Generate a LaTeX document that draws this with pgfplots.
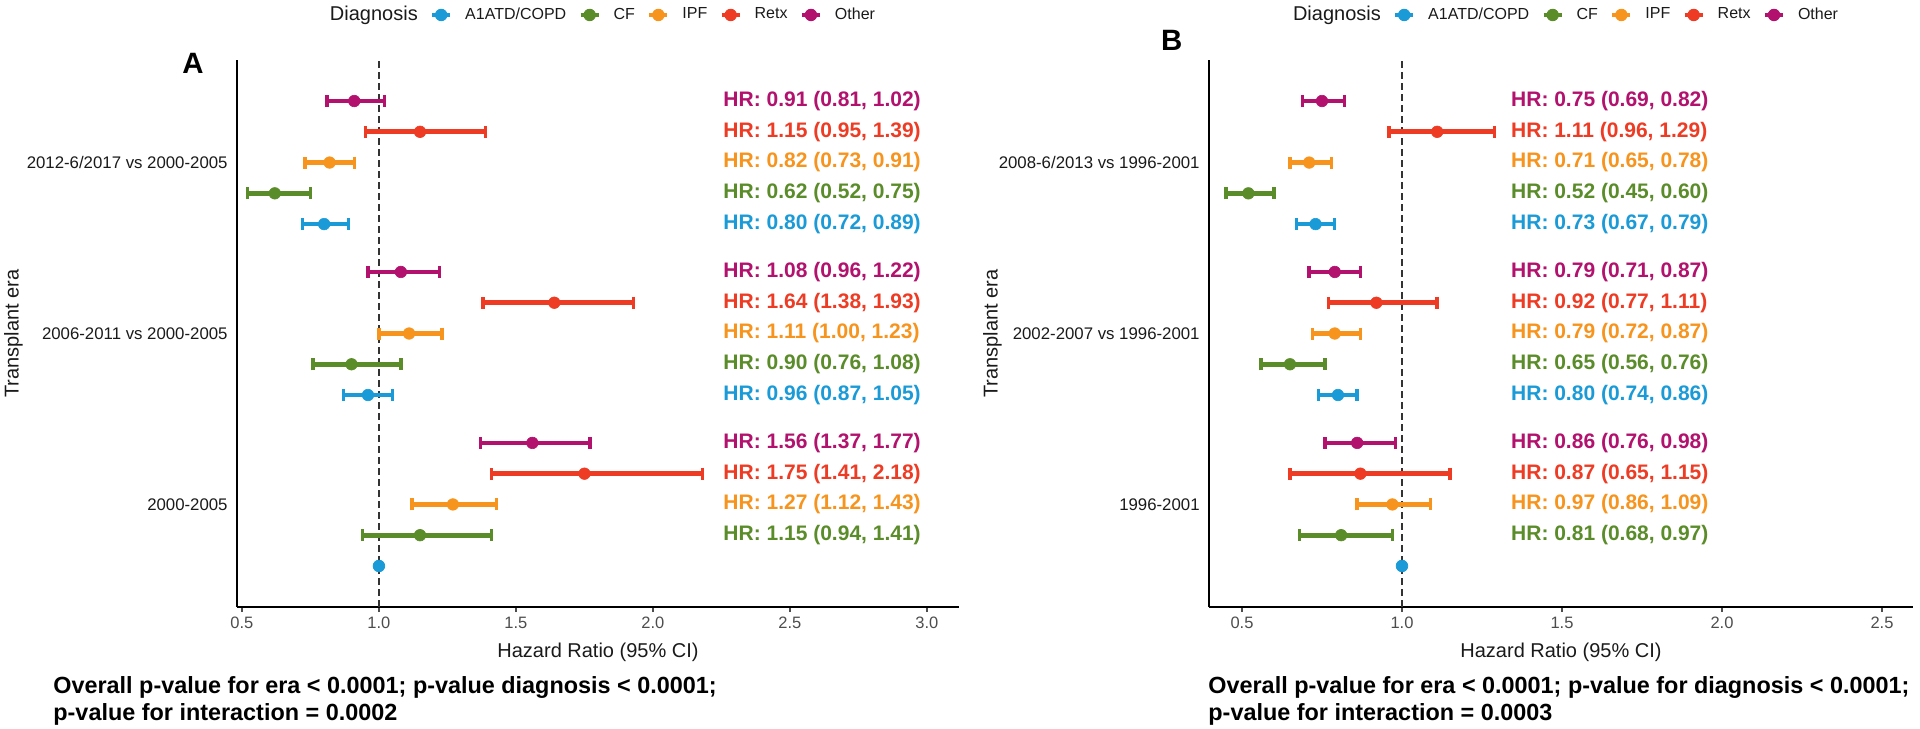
\documentclass[border=0pt]{standalone}
\usepackage{pgfplots}
\pgfplotsset{compat=1.18}
\usepackage{pgfplotstable}
\usepackage{fontspec}
\setmainfont{Liberation Sans}

\definecolor{cA1}{HTML}{1A9BD7}
\definecolor{cCF}{HTML}{5B8C2A}
\definecolor{cIPF}{HTML}{F7941D}
\definecolor{cRetx}{HTML}{EE3B24}
\definecolor{cOther}{HTML}{B2116D}
\definecolor{tickgray}{HTML}{4D4D4D}
\definecolor{txt}{HTML}{1A1A1A}

% g = era (1 = reference era, 2 = middle, 3 = latest)
% ---- panel A
\pgfplotstableread{
g hr lo hi
3 0.80 0.72 0.89
2 0.96 0.87 1.05
}\aAone
\pgfplotstableread{
g hr lo hi
3 0.62 0.52 0.75
2 0.90 0.76 1.08
1 1.15 0.94 1.41
}\aCF
\pgfplotstableread{
g hr lo hi
3 0.82 0.73 0.91
2 1.11 1.00 1.23
1 1.27 1.12 1.43
}\aIPF
\pgfplotstableread{
g hr lo hi
3 1.15 0.95 1.39
2 1.64 1.38 1.93
1 1.75 1.41 2.18
}\aRetx
\pgfplotstableread{
g hr lo hi
3 0.91 0.81 1.02
2 1.08 0.96 1.22
1 1.56 1.37 1.77
}\aOther
% ---- panel B
\pgfplotstableread{
g hr lo hi
3 0.73 0.67 0.79
2 0.80 0.74 0.86
}\bAone
\pgfplotstableread{
g hr lo hi
3 0.52 0.45 0.60
2 0.65 0.56 0.76
1 0.81 0.68 0.97
}\bCF
\pgfplotstableread{
g hr lo hi
3 0.71 0.65 0.78
2 0.79 0.72 0.87
1 0.97 0.86 1.09
}\bIPF
\pgfplotstableread{
g hr lo hi
3 1.11 0.96 1.29
2 0.92 0.77 1.11
1 0.87 0.65 1.15
}\bRetx
\pgfplotstableread{
g hr lo hi
3 0.75 0.69 0.82
2 0.79 0.71 0.87
1 0.86 0.76 0.98
}\bOther

\pgfplotsset{
  diag/.style={forget plot, only marks, mark=*, mark size=2.9pt, color=#1, line width=2.3pt,
    mark options={solid, fill=#1, draw=#1, line width=0.3pt},
    error bars/.cd, x dir=both, x explicit, error mark=|,
    error bar style={line width=2.3pt, #1},
    error mark options={line width=1.7pt, mark size=3pt, #1}},
  legimg/.style={legend image code/.code={
    \draw[line width=2pt,#1] (0pt,0pt) -- (9pt,0pt);
    \draw[line width=2pt,#1] (4.5pt,-3.2pt) -- (4.5pt,3.2pt);
    \fill[#1] (4.5pt,0pt) circle (2.9pt);}},
  panel/.style={
    scale only axis, height=273.5pt, ymin=0.4, ymax=3.6,
    clip=false,
    axis x line*=bottom, axis y line*=left,
    axis line style={-, line width=0.9pt, black},
    ytick={1,2,3},
    tick align=outside, major tick length=2.5pt,
    y tick style={draw=none},
    x tick style={tickgray, line width=0.6pt},
    /pgf/number format/assume math mode=true,
    xticklabel={\pgfmathprintnumber[fixed, fixed zerofill, precision=1]{\tick}},
    xticklabel style={font=\fontsize{8.25}{10}\selectfont, text=tickgray, inner sep=0pt, yshift=-2.5pt},
    yticklabel style={font=\fontsize{8.4}{10}\selectfont, text=txt, inner sep=0pt, xshift=-2pt},
    xlabel={Hazard Ratio (95\% CI)}, ylabel={Transplant era},
    label style={font=\fontsize{10}{12}\selectfont, text=txt},
    xlabel style={at={(axis description cs:0.5,0)}, anchor=base, yshift=-25.4pt},
    legend style={draw=none, fill=none, at={(axis description cs:0.5,1.0823)}, anchor=center,
      font=\fontsize{8}{9.6}\selectfont, text=txt,
      /tikz/every odd column/.append style={column sep=4.5pt},
      /tikz/every even column/.append style={column sep=4.2pt}},
    legend columns=-1, legend cell align=left,
  },
}
\tikzset{hrlab/.style={anchor=west, inner sep=0pt, text=#1, font=\bfseries\fontsize{10.5}{12}\selectfont}}

\newcommand{\legendrow}{%
  \addlegendimage{empty legend}\addlegendentry{\fontsize{10}{12}\selectfont Diagnosis}
  \addlegendimage{legimg=cA1}\addlegendentry{A1ATD/COPD}
  \addlegendimage{legimg=cCF}\addlegendentry{CF}
  \addlegendimage{legimg=cIPF}\addlegendentry{IPF}
  \addlegendimage{legimg=cRetx}\addlegendentry{Retx}
  \addlegendimage{legimg=cOther}\addlegendentry{Other}}

\begin{document}
\begin{tikzpicture}
\path[use as bounding box] (0,0) rectangle (960pt,364pt);

% ================= panel A
\begin{axis}[panel, at={(118.5pt,60.5pt)}, anchor=south west, width=361pt,
  xmin=0.482, xmax=3.117, xtick={0.5,1,1.5,2,2.5,3},
  yticklabels={2000-2005, 2006-2011 vs 2000-2005, 2012-6/2017 vs 2000-2005},
  ylabel style={at={(axis description cs:-0.3096,0.5)}, anchor=center}]
\legendrow
\addplot[forget plot, dashed, dash pattern=on 3.5pt off 2pt, line width=0.9pt, color=black!80]
  coordinates {(1,0.4) (1,3.6)};
\addplot[diag=cA1] table[x=hr, y expr=\thisrow{g}-0.36,
  x error plus expr=\thisrow{hi}-\thisrow{hr}, x error minus expr=\thisrow{hr}-\thisrow{lo}] {\aAone};
\addplot[diag=cCF] table[x=hr, y expr=\thisrow{g}-0.18,
  x error plus expr=\thisrow{hi}-\thisrow{hr}, x error minus expr=\thisrow{hr}-\thisrow{lo}] {\aCF};
\addplot[diag=cIPF] table[x=hr, y expr=\thisrow{g},
  x error plus expr=\thisrow{hi}-\thisrow{hr}, x error minus expr=\thisrow{hr}-\thisrow{lo}] {\aIPF};
\addplot[diag=cRetx] table[x=hr, y expr=\thisrow{g}+0.18,
  x error plus expr=\thisrow{hi}-\thisrow{hr}, x error minus expr=\thisrow{hr}-\thisrow{lo}] {\aRetx};
\addplot[diag=cOther] table[x=hr, y expr=\thisrow{g}+0.36,
  x error plus expr=\thisrow{hi}-\thisrow{hr}, x error minus expr=\thisrow{hr}-\thisrow{lo}] {\aOther};
% reference category
\addplot[forget plot, only marks, mark=*, mark size=2.9pt, color=cA1] coordinates {(1,0.64)};

\node[hrlab=cOther] at (axis cs:2.256,3.36) {HR: 0.91 (0.81, 1.02)};
\node[hrlab=cRetx]  at (axis cs:2.256,3.18) {HR: 1.15 (0.95, 1.39)};
\node[hrlab=cIPF]   at (axis cs:2.256,3.00) {HR: 0.82 (0.73, 0.91)};
\node[hrlab=cCF]    at (axis cs:2.256,2.82) {HR: 0.62 (0.52, 0.75)};
\node[hrlab=cA1]    at (axis cs:2.256,2.64) {HR: 0.80 (0.72, 0.89)};
\node[hrlab=cOther] at (axis cs:2.256,2.36) {HR: 1.08 (0.96, 1.22)};
\node[hrlab=cRetx]  at (axis cs:2.256,2.18) {HR: 1.64 (1.38, 1.93)};
\node[hrlab=cIPF]   at (axis cs:2.256,2.00) {HR: 1.11 (1.00, 1.23)};
\node[hrlab=cCF]    at (axis cs:2.256,1.82) {HR: 0.90 (0.76, 1.08)};
\node[hrlab=cA1]    at (axis cs:2.256,1.64) {HR: 0.96 (0.87, 1.05)};
\node[hrlab=cOther] at (axis cs:2.256,1.36) {HR: 1.56 (1.37, 1.77)};
\node[hrlab=cRetx]  at (axis cs:2.256,1.18) {HR: 1.75 (1.41, 2.18)};
\node[hrlab=cIPF]   at (axis cs:2.256,1.00) {HR: 1.27 (1.12, 1.43)};
\node[hrlab=cCF]    at (axis cs:2.256,0.82) {HR: 1.15 (0.94, 1.41)};
\end{axis}

% ================= panel B
\begin{axis}[panel, at={(604.5pt,60.5pt)}, anchor=south west, width=352pt,
  xmin=0.397, xmax=2.597, xtick={0.5,1,1.5,2,2.5},
  yticklabels={1996-2001, 2002-2007 vs 1996-2001, 2008-6/2013 vs 1996-2001},
  ylabel style={at={(axis description cs:-0.3075,0.5)}, anchor=center}]
\legendrow
\addplot[forget plot, dashed, dash pattern=on 3.5pt off 2pt, line width=0.9pt, color=black!80]
  coordinates {(1,0.4) (1,3.6)};
\addplot[diag=cA1] table[x=hr, y expr=\thisrow{g}-0.36,
  x error plus expr=\thisrow{hi}-\thisrow{hr}, x error minus expr=\thisrow{hr}-\thisrow{lo}] {\bAone};
\addplot[diag=cCF] table[x=hr, y expr=\thisrow{g}-0.18,
  x error plus expr=\thisrow{hi}-\thisrow{hr}, x error minus expr=\thisrow{hr}-\thisrow{lo}] {\bCF};
\addplot[diag=cIPF] table[x=hr, y expr=\thisrow{g},
  x error plus expr=\thisrow{hi}-\thisrow{hr}, x error minus expr=\thisrow{hr}-\thisrow{lo}] {\bIPF};
\addplot[diag=cRetx] table[x=hr, y expr=\thisrow{g}+0.18,
  x error plus expr=\thisrow{hi}-\thisrow{hr}, x error minus expr=\thisrow{hr}-\thisrow{lo}] {\bRetx};
\addplot[diag=cOther] table[x=hr, y expr=\thisrow{g}+0.36,
  x error plus expr=\thisrow{hi}-\thisrow{hr}, x error minus expr=\thisrow{hr}-\thisrow{lo}] {\bOther};
\addplot[forget plot, only marks, mark=*, mark size=2.9pt, color=cA1] coordinates {(1,0.64)};

\node[hrlab=cOther] at (axis cs:1.34,3.36) {HR: 0.75 (0.69, 0.82)};
\node[hrlab=cRetx]  at (axis cs:1.34,3.18) {HR: 1.11 (0.96, 1.29)};
\node[hrlab=cIPF]   at (axis cs:1.34,3.00) {HR: 0.71 (0.65, 0.78)};
\node[hrlab=cCF]    at (axis cs:1.34,2.82) {HR: 0.52 (0.45, 0.60)};
\node[hrlab=cA1]    at (axis cs:1.34,2.64) {HR: 0.73 (0.67, 0.79)};
\node[hrlab=cOther] at (axis cs:1.34,2.36) {HR: 0.79 (0.71, 0.87)};
\node[hrlab=cRetx]  at (axis cs:1.34,2.18) {HR: 0.92 (0.77, 1.11)};
\node[hrlab=cIPF]   at (axis cs:1.34,2.00) {HR: 0.79 (0.72, 0.87)};
\node[hrlab=cCF]    at (axis cs:1.34,1.82) {HR: 0.65 (0.56, 0.76)};
\node[hrlab=cA1]    at (axis cs:1.34,1.64) {HR: 0.80 (0.74, 0.86)};
\node[hrlab=cOther] at (axis cs:1.34,1.36) {HR: 0.86 (0.76, 0.98)};
\node[hrlab=cRetx]  at (axis cs:1.34,1.18) {HR: 0.87 (0.65, 1.15)};
\node[hrlab=cIPF]   at (axis cs:1.34,1.00) {HR: 0.97 (0.86, 1.09)};
\node[hrlab=cCF]    at (axis cs:1.34,0.82) {HR: 0.81 (0.68, 0.97)};
\end{axis}

% panel letters and footnotes
\node[font=\bfseries\fontsize{14.7}{16}\selectfont, inner sep=0pt] at (96.5pt,332.3pt) {A};
\node[font=\bfseries\fontsize{14.7}{16}\selectfont, inner sep=0pt] at (585.8pt,344pt) {B};
\begin{scope}[every node/.style={anchor=base west, inner sep=0pt, text=black, font=\bfseries\fontsize{11.7}{14}\selectfont}]
\node at (26.5pt,17.5pt) {Overall p-value for era < 0.0001; p-value diagnosis < 0.0001;};
\node at (26.5pt,4pt) {p-value for interaction = 0.0002};
\node at (604pt,17.5pt) {Overall p-value for era < 0.0001; p-value for diagnosis < 0.0001;};
\node at (604pt,4pt) {p-value for interaction = 0.0003};
\end{scope}
\end{tikzpicture}
\end{document}
